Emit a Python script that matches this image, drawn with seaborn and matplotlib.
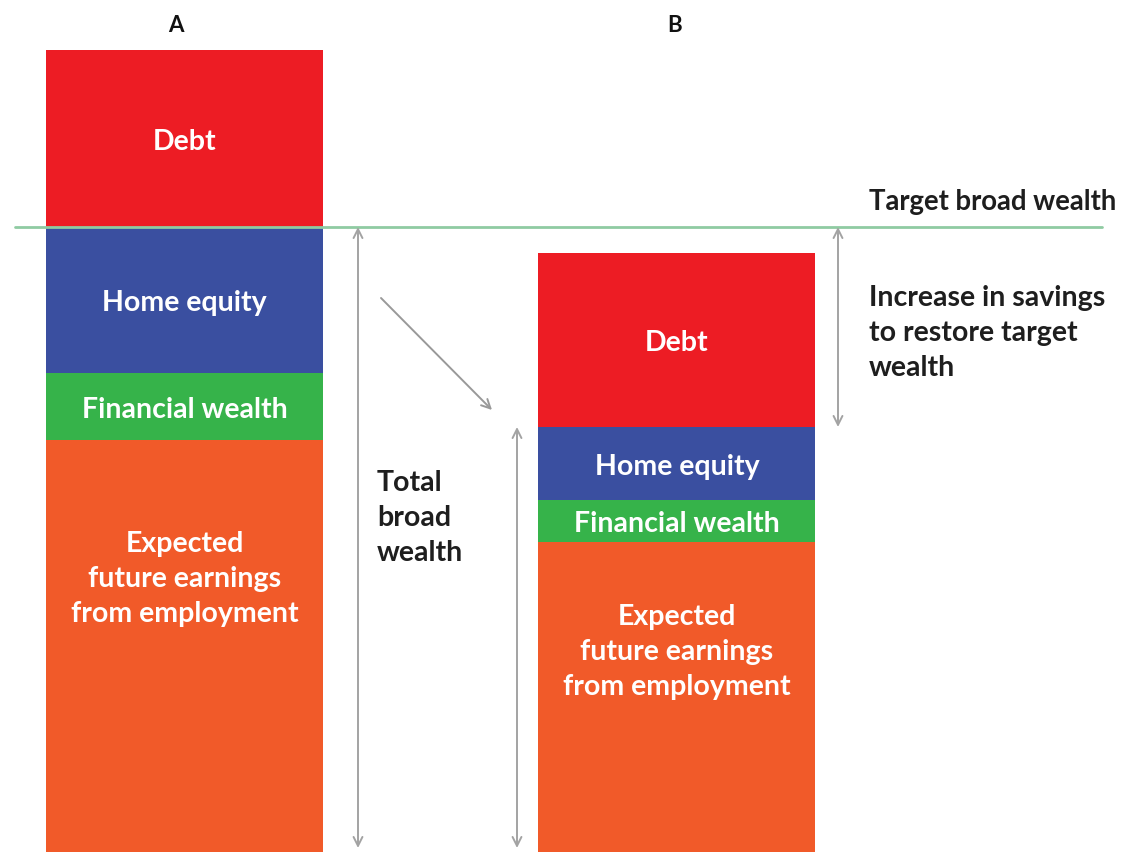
import pandas as pd
import seaborn as sns
import matplotlib.pyplot as plt

# wealth components for the two households (heights)
categories = ["A", "B"]
earnings = [412, 310]
financial = [67, 42]
home_equity = [146, 73]
debt = [177, 174]
target = 625

layer_names = ["Debt", "Home equity", "Financial wealth", "Expected\nfuture earnings\nfrom employment"]
layer_colors = ["#ED1C24", "#3A4FA0", "#36B34A", "#F15A29"]

sns.set_theme(style="white")
plt.rcParams['font.family'] = ['Lato', 'DejaVu Sans']

# cumulative tops, drawn from tallest to shortest so they stack
tops = pd.DataFrame({
    "bar": categories,
    "Expected\nfuture earnings\nfrom employment": earnings,
})
tops["Financial wealth"] = tops.iloc[:, 1] + pd.Series(financial)
tops["Home equity"] = tops["Financial wealth"] + pd.Series(home_equity)
tops["Debt"] = tops["Home equity"] + pd.Series(debt)

fig = plt.figure(figsize=(11.21, 8.52), dpi=100)
ax = fig.add_axes([0, 0, 1, 1])

bar_w = 277 / 492.5
for name, col in zip(layer_names, layer_colors):
    sns.barplot(data=tops, x="bar", y=name, color=col, saturation=1,
                width=bar_w, linewidth=0, ax=ax)

ax.set_xlim(-184.5 / 492.5, 1 + 444 / 492.5)
ax.set_ylim(0, 852)
ax.axis("off")


def px(x):
    # pixel column -> category axis units
    return (x - 184.5) / 492.5


FS = 20.5
LS = 1.42
# segment labels; the earnings label sits in the upper part of its block
earn_label_drop = [139, 110]
for i, cat in enumerate(categories):
    row = tops.iloc[i]
    bottoms = [row["Home equity"], row["Financial wealth"],
               row["Expected\nfuture earnings\nfrom employment"], 0]
    for name, b in zip(layer_names, bottoms):
        if b == 0:
            y = row[name] - earn_label_drop[i]
        else:
            y = (b + row[name]) / 2 - 3
        ax.text(i, y, name, ha="center", va="center", color="white",
                fontsize=FS, fontweight="bold", linespacing=LS)

ax.text(px(176), 827, "A", ha="center", va="center", color="#111111",
        fontsize=16, fontweight="bold")
ax.text(px(675), 827, "B", ha="center", va="center", color="#111111",
        fontsize=16, fontweight="bold")

# target line
ax.plot([px(15), px(1102)], [target, target], color="#8FCBA2", lw=2, zorder=1)
ax.text(px(869), 650, "Target broad wealth", ha="left", va="center",
        fontsize=19.8, fontweight="bold", color="#1E1E1E")

arrow_kw = dict(arrowstyle="<->", color="#A3A3A3", lw=1.4, mutation_scale=16,
                shrinkA=0, shrinkB=0)
non_debt_b = tops["Home equity"][1]

ax.annotate("", xy=(px(358), 4), xytext=(px(358), target), arrowprops=arrow_kw)
ax.annotate("", xy=(px(517), 4), xytext=(px(517), non_debt_b), arrowprops=arrow_kw)
ax.annotate("", xy=(px(838), non_debt_b), xytext=(px(838), target), arrowprops=arrow_kw)
ax.annotate("", xy=(px(492), 852 - 410), xytext=(px(381), 852 - 298),
            arrowprops=dict(arrowstyle="->", color="#999999", lw=1.4,
                            mutation_scale=16, shrinkA=0, shrinkB=0))

ax.text(px(377), 334, "Total\nbroad\nwealth", ha="left", va="center",
        fontsize=FS, fontweight="bold", color="#1E1E1E", linespacing=LS)
ax.text(px(869), 519, "Increase in savings\nto restore target\nwealth", ha="left",
        va="center", fontsize=FS, fontweight="bold", color="#1E1E1E",
        linespacing=LS)

fig.savefig("out.png", dpi=100)
